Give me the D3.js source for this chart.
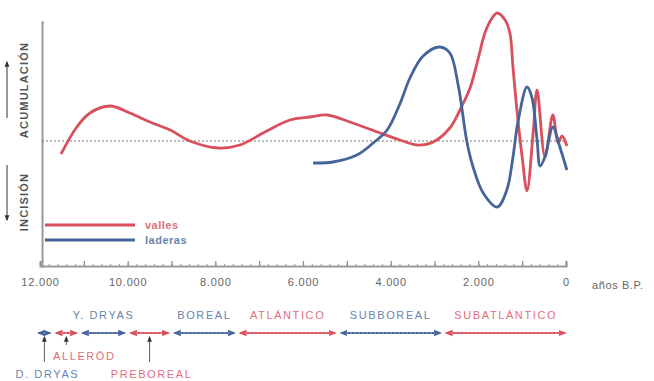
<!DOCTYPE html>
<html>
<head>
<meta charset="utf-8">
<script src="https://cdn.jsdelivr.net/npm/d3@7"></script>
<style>
  body { margin: 0; background: #fff; }
  text { font-family: "Liberation Sans", Arial, sans-serif; }
</style>
</head>
<body>
<svg id="chart" width="654" height="381"></svg>
<script>
// --- data (years B.P., relative accumulation / incision) ---
const vallesYears  = [11520, 11160, 10860, 10400, 9950, 9490, 9030, 8580, 7940, 7440, 6870, 6300, 5840, 5450, 4930, 4240, 3790, 3400, 3030, 2650, 2420, 2190, 2000, 1850, 1700, 1570, 1390, 1280, 1210, 1120, 1000, 890, 750, 660, 480, 300, 180, 90, -20];
const vallesValues = [-1.3, 1.4, 2.8, 3.5, 2.8, 1.9, 1.1, 0, -0.7, -0.4, 0.9, 2.1, 2.4, 2.6, 1.9, 0.8, 0.1, -0.4, -0.1, 1.3, 3.1, 5.3, 8.3, 10.8, 12.2, 12.8, 12.1, 10.8, 7.4, 3.1, -1.6, -5.0, 0.8, 5.1, -1.6, 2.6, -0.2, 0.5, -0.5];

const laderasYears  = [5770, 5320, 4770, 4400, 4080, 3790, 3560, 3260, 2880, 2650, 2460, 2260, 2120, 1890, 1570, 1350, 1210, 1100, 890, 780, 660, 590, 480, 300, 140, -20];
const laderasValues = [-2.2, -2.1, -1.4, -0.2, 1.1, 3.7, 6.3, 8.5, 9.4, 8.8, 5.6, -0.1, -2.6, -5.2, -6.6, -4.9, -1.6, 1.8, 5.4, 4.4, 0.1, -2.5, -1.6, 1.4, -0.6, -2.9];

const xLabelTicks = [12000, 10000, 8000, 6000, 4000, 2000, 0];

const periodNames  = ["D. DRYAS", "ALLERÖD", "Y. DRYAS", "PREBOREAL", "BOREAL", "ATLÁNTICO", "SUBBOREAL", "SUBATLÁNTICO"];
const periodStarts = [12100, 11700, 11100, 10000, 9000, 7500, 5200, 2800];
const periodEnds   = [11700, 11100, 10000, 9000, 7500, 5200, 2800, -50];

const RED = "#d9505c";
const BLUE = "#45649a";
const RED_TXT = "#e0707a";
const BLUE_TXT = "#6884b0";

const margin = { top: 22, right: 88, bottom: 115, left: 40 };
const svg = d3.select("#chart");
const width = +svg.attr("width") - margin.left - margin.right;
const height = +svg.attr("height") - margin.top - margin.bottom;

svg.append("rect").attr("width", 654).attr("height", 381).attr("fill", "#fff");

const defs = svg.append("defs");
function arrowMarker(id, color, size) {
  defs.append("marker")
    .attr("id", id)
    .attr("viewBox", "0 0 10 10")
    .attr("refX", 8).attr("refY", 5)
    .attr("markerWidth", size).attr("markerHeight", size)
    .attr("markerUnits", "userSpaceOnUse")
    .attr("orient", "auto-start-reverse")
    .append("path")
    .attr("d", "M0,1 L10,5 L0,9 Z")
    .attr("fill", color);
}
arrowMarker("arRed", RED, 8);
arrowMarker("arBlue", BLUE, 8);
arrowMarker("arDark", "#333", 6);

const g = svg.append("g").attr("transform", "translate(" + margin.left + "," + margin.top + ")");

const x = d3.scaleLinear().domain([12000, 0]).range([0, width]);
const y = d3.scaleLinear().domain([-12.5, 11.9]).range([height, 0]);

const es = d3.formatLocale({ decimal: ",", thousands: ".", grouping: [3], currency: ["", ""] });
const fmt = es.format(",");

// minor ticks on x axis
g.append("g")
  .attr("class", "axis axis--xminor")
  .attr("transform", "translate(0," + height + ")")
  .call(d3.axisBottom(x).tickValues(d3.range(0, 12001, 200)).tickSize(-2).tickFormat(""))
  .call(s => s.select(".domain").remove())
  .call(s => s.selectAll("line").attr("stroke", "#999"));

// x axis
g.append("g")
  .attr("class", "axis axis--x")
  .attr("transform", "translate(0," + height + ")")
  .call(d3.axisBottom(x)
    .tickValues(d3.range(0, 12001, 1000))
    .tickSize(-5)
    .tickPadding(12)
    .tickFormat(d => xLabelTicks.includes(d) ? fmt(d) : ""))
  .call(s => s.select(".domain").attr("stroke", "#9a9a9a").attr("stroke-width", 2))
  .call(s => s.selectAll("line").attr("stroke", "#888").attr("stroke-width", 1.2))
  .call(s => s.selectAll("text")
    .attr("fill", "#666")
    .style("font-size", "11px")
    .style("letter-spacing", "0.8px"));

g.append("text")
  .attr("x", width + 26)
  .attr("y", height + 23)
  .attr("fill", "#666")
  .style("font-size", "11px")
  .style("letter-spacing", "0.6px")
  .text("años B.P.");

// y axis (no values)
g.append("g")
  .attr("class", "axis axis--y")
  .attr("transform", "translate(2,0)")
  .call(d3.axisRight(y).ticks(24).tickSize(2).tickFormat(""))
  .call(s => s.select(".domain").attr("stroke", "#9a9a9a").attr("stroke-width", 2))
  .call(s => s.selectAll("line").attr("stroke", "#aaa"));

// zero line
g.append("line")
  .attr("x1", 2).attr("x2", x(0))
  .attr("y1", y(0)).attr("y2", y(0))
  .attr("stroke", "#777")
  .attr("stroke-width", 1)
  .attr("stroke-dasharray", "2,2");

// axis titles
const yTitles = [
  { text: "ACUMULACIÓN", cy: 90 },
  { text: "INCISIÓN", cy: 202 }
];
yTitles.forEach(t => {
  svg.append("text")
    .attr("transform", "translate(28," + t.cy + ") rotate(-90)")
    .attr("text-anchor", "middle")
    .attr("fill", "#555")
    .style("font-size", "11px")
    .style("font-weight", "bold")
    .style("letter-spacing", "1.2px")
    .text(t.text);
});
svg.append("line")
  .attr("x1", 7).attr("x2", 7).attr("y1", 118).attr("y2", 62)
  .attr("stroke", "#333").attr("stroke-width", 1)
  .attr("marker-end", "url(#arDark)");
svg.append("line")
  .attr("x1", 7).attr("x2", 7).attr("y1", 165).attr("y2", 220)
  .attr("stroke", "#333").attr("stroke-width", 1)
  .attr("marker-end", "url(#arDark)");

// curves
const series = [
  { id: "valles", color: RED, values: vallesYears.map((yr, i) => ({ year: yr, v: vallesValues[i] })) },
  { id: "laderas", color: BLUE, values: laderasYears.map((yr, i) => ({ year: yr, v: laderasValues[i] })) }
];

const line = d3.line()
  .curve(d3.curveCatmullRom.alpha(0.5))
  .x(d => x(d.year))
  .y(d => y(d.v));

g.selectAll(".curve")
  .data(series)
  .enter().append("path")
  .attr("class", d => "curve " + d.id)
  .attr("d", d => line(d.values))
  .attr("fill", "none")
  .attr("stroke", d => d.color)
  .attr("stroke-width", 2.8)
  .attr("stroke-linejoin", "round");

// legend
const legend = svg.append("g").attr("transform", "translate(45,225)");
series.forEach((s, i) => {
  const row = legend.append("g").attr("transform", "translate(0," + i * 15 + ")");
  row.append("line").attr("x1", 0).attr("x2", 90)
    .attr("stroke", s.color).attr("stroke-width", 3);
  row.append("text").attr("x", 100).attr("dy", "0.35em")
    .attr("fill", i === 0 ? RED_TXT : BLUE_TXT)
    .style("font-size", "11px")
    .style("font-weight", "bold")
    .style("letter-spacing", "0.5px")
    .text(s.id);
});

// chronology bar
const barY = 333;
const chrono = svg.append("g").attr("transform", "translate(" + margin.left + ",0)");
const periods = periodNames.map((n, i) => ({
  name: n, start: periodStarts[i], end: periodEnds[i], blue: i % 2 === 0
}));

chrono.selectAll(".period")
  .data(periods)
  .enter().append("line")
  .attr("class", "period")
  .attr("x1", d => x(d.start) + 3)
  .attr("x2", d => x(d.end) - 3)
  .attr("y1", barY).attr("y2", barY)
  .attr("stroke", d => d.blue ? BLUE : RED)
  .attr("stroke-width", 2)
  .attr("marker-start", d => d.blue ? "url(#arBlue)" : "url(#arRed)")
  .attr("marker-end", d => d.blue ? "url(#arBlue)" : "url(#arRed)");

chrono.selectAll(".period-dash")
  .data(periods)
  .enter().append("line")
  .attr("x1", d => x(d.start) + 8)
  .attr("x2", d => x(d.end) - 8)
  .attr("y1", barY).attr("y2", barY)
  .attr("stroke", "#fff")
  .attr("stroke-opacity", 0.45)
  .attr("stroke-width", 1)
  .attr("stroke-dasharray", "2,2");

// labels: above the bar, or below with a pointer
const below = { "D. DRYAS": { dx: 3, ty: 378, ly: 362 }, "ALLERÖD": { dx: 18, ty: 360, ly: 345 }, "PREBOREAL": { dx: 2, ty: 378, ly: 362 } };

periods.forEach(p => {
  const mid = (x(p.start) + x(p.end)) / 2;
  const b = below[p.name];
  const t = chrono.append("text")
    .attr("text-anchor", "middle")
    .attr("fill", p.blue ? BLUE_TXT : RED_TXT)
    .style("font-size", "11px")
    .style("letter-spacing", "1.6px")
    .text(p.name);
  if (b) {
    t.attr("x", mid + b.dx).attr("y", b.ty);
    chrono.append("line")
      .attr("x1", mid).attr("x2", mid)
      .attr("y1", b.ly).attr("y2", barY + 4)
      .attr("stroke", "#333").attr("stroke-width", 0.8)
      .attr("marker-end", "url(#arDark)");
  } else {
    t.attr("x", mid).attr("y", barY - 14);
  }
});
</script>
</body>
</html>
